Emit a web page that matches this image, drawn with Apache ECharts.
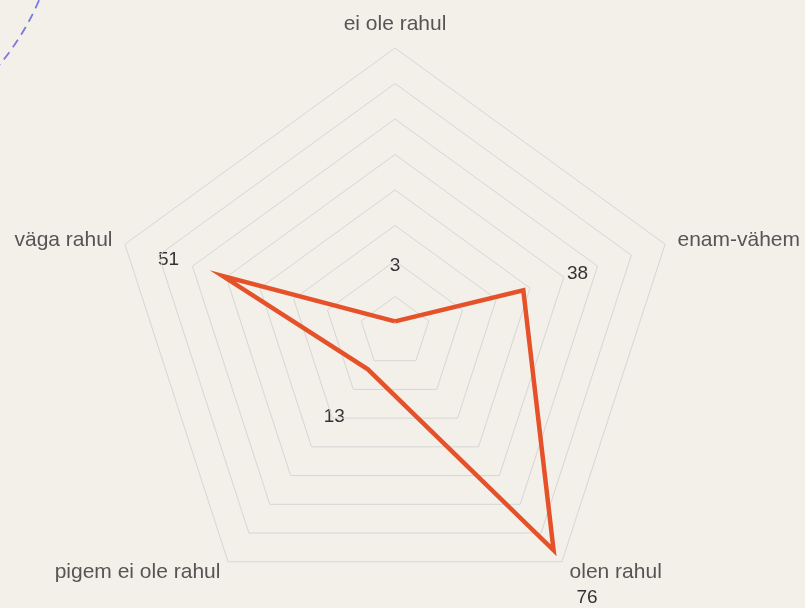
<!DOCTYPE html>
<html>
<head>
<meta charset="utf-8">
<script src="https://cdn.jsdelivr.net/npm/echarts@6/dist/echarts.min.js"></script>
<style>
html,body{margin:0;padding:0;background:#f3f0ea;}
#c{width:805px;height:608px;}
</style>
</head>
<body>
<div id="c"></div>
<script>
// Indicator order follows ECharts radar layout (counter-clockwise from top)
var categories = ["ei ole rahul", "väga rahul", "pigem ei ole rahul", "olen rahul", "enam-vähem"];
var values = [3, 51, 13, 76, 38];
var axisMax = 80;

var CX = 395, CY = 332, R = 284, LABEL_GAP = 57;
var FONT = '"Liberation Sans", Arial, sans-serif';
var chart = echarts.init(document.getElementById('c'), null, {renderer: 'canvas'});

var graphics = [{
  type: 'circle',
  shape: {cx: -200, cy: -102, r: 260},
  style: {fill: 'none', stroke: '#7b78e0', lineWidth: 1.8, lineDash: [9, 6]},
  silent: true
}];
values.forEach(function (v, i) {
  var ang = (90 + i * 360 / categories.length) * Math.PI / 180;
  var rr = v / axisMax * R + LABEL_GAP;
  graphics.push({
    type: 'text',
    x: CX + rr * Math.cos(ang),
    y: CY - rr * Math.sin(ang) + 1,
    style: {text: String(v), fill: '#333', font: '19px ' + FONT, align: 'center', verticalAlign: 'middle'},
    silent: true
  });
});

chart.setOption({
  backgroundColor: '#f3f0ea',
  animation: false,
  textStyle: {fontFamily: FONT},
  radar: {
    center: [CX, CY],
    radius: R,
    startAngle: 90,
    splitNumber: 8,
    shape: 'polygon',
    indicator: categories.map(function (c) { return {name: c, max: axisMax, min: 0}; }),
    axisName: {color: '#555', fontSize: 21, fontFamily: FONT},
    nameGap: 13,
    axisLine: {show: false},
    axisTick: {show: false},
    axisLabel: {show: false},
    splitLine: {lineStyle: {color: '#d6d6d6', width: 1}},
    splitArea: {show: false}
  },
  series: [{
    type: 'radar',
    symbol: 'none',
    lineStyle: {color: '#e5522a', width: 4.5, join: 'miter'},
    data: [{value: values}]
  }],
  graphic: graphics
});
</script>
</body>
</html>
